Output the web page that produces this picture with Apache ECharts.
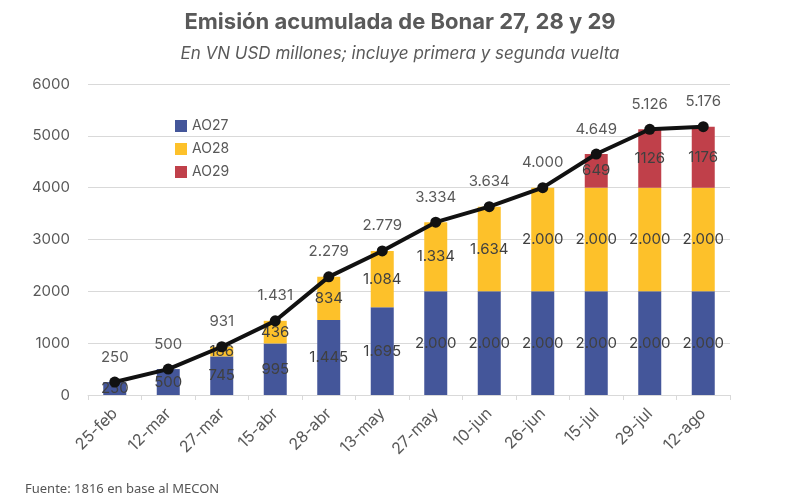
<!DOCTYPE html>
<html>
<head>
<meta charset="utf-8">
<script src="https://cdn.jsdelivr.net/npm/echarts@6/dist/echarts.min.js"></script>
<style>
  html, body { margin: 0; padding: 0; background: #fff; }
  #chart { width: 800px; height: 504px; }
</style>
</head>
<body>
<div id="chart"></div>
<script>
var fechas = ['25-feb', '12-mar', '27-mar', '15-abr', '28-abr', '13-may', '27-may', '10-jun', '26-jun', '15-jul', '29-jul', '12-ago'];
var ao27 = [250, 500, 745, 995, 1445, 1695, 2000, 2000, 2000, 2000, 2000, 2000];
var ao28 = [0, 0, 186, 436, 834, 1084, 1334, 1634, 2000, 2000, 2000, 2000];
var ao29 = [0, 0, 0, 0, 0, 0, 0, 0, 0, 649, 1126, 1176];
var total = [250, 500, 931, 1431, 2279, 2779, 3334, 3634, 4000, 4649, 5126, 5176];

var fontFam = 'Inter, "Noto Sans", sans-serif';

// separador de miles con punto
function miles(v) {
  return String(v).replace(/\B(?=(\d{3})+(?!\d))/g, '.');
}

function etiquetaBarra(sep) {
  return {
    show: true,
    position: 'inside',
    color: '#404040',
    fontSize: 15,
    fontFamily: fontFam,
    formatter: function (p) {
      if (!p.value) return '';
      return sep ? miles(p.value) : String(p.value);
    }
  };
}

var chart = echarts.init(document.getElementById('chart'));

var option = {
  backgroundColor: '#fff',
  animation: false,
  title: [{
    text: 'Emisión acumulada de Bonar 27, 28 y 29',
    left: 'center',
    top: 6,
    textStyle: { fontFamily: fontFam, fontSize: 22, fontWeight: 'bold', color: '#595959' }
  }, {
    text: 'En VN USD millones; incluye primera y segunda vuelta',
    left: 'center',
    top: 40,
    textStyle: { fontFamily: fontFam, fontSize: 17, fontStyle: 'italic', fontWeight: 'normal', color: '#595959' }
  }, {
    text: 'Fuente: 1816 en base al MECON',
    left: 20,
    top: 478,
    textStyle: { fontFamily: '"Liberation Sans Narrow", "Noto Sans", sans-serif', fontSize: 13, fontWeight: 'normal', color: '#555' }
  }],
  legend: {
    data: ['AO27', 'AO28', 'AO29'],
    orient: 'vertical',
    left: 170,
    top: 114,
    itemWidth: 12,
    itemHeight: 12,
    itemGap: 9,
    icon: 'rect',
    textStyle: { fontFamily: fontFam, fontSize: 14, color: '#595959' }
  },
  grid: { left: 88, right: 70, top: 84, bottom: 109 },
  xAxis: {
    type: 'category',
    data: fechas,
    axisLine: { lineStyle: { color: '#d9d9d9' } },
    axisTick: { show: true, lineStyle: { color: '#d9d9d9' } },
    axisLabel: { rotate: 45, color: '#595959', fontSize: 16, fontFamily: fontFam, margin: 16 }
  },
  yAxis: {
    type: 'value',
    min: 0,
    max: 6000,
    interval: 1000,
    axisLine: { show: false },
    axisTick: { show: false },
    splitLine: { lineStyle: { color: '#d9d9d9' } },
    axisLabel: { color: '#595959', fontSize: 15, fontFamily: fontFam, margin: 18, formatter: function (v) { return String(v); } }
  },
  series: [{
    name: 'AO27',
    type: 'bar',
    stack: 'total',
    barWidth: 23,
    data: ao27,
    itemStyle: { color: '#44569a' },
    label: etiquetaBarra(true)
  }, {
    name: 'AO28',
    type: 'bar',
    stack: 'total',
    data: ao28,
    itemStyle: { color: '#fdc12a' },
    label: etiquetaBarra(true)
  }, {
    name: 'AO29',
    type: 'bar',
    stack: 'total',
    data: ao29,
    itemStyle: { color: '#c0404a' },
    label: etiquetaBarra(false)
  }, {
    name: 'Total',
    type: 'line',
    data: total,
    symbol: 'circle',
    symbolSize: 11,
    lineStyle: { color: '#111', width: 4 },
    itemStyle: { color: '#111' },
    z: 5,
    label: {
      show: true,
      position: 'top',
      distance: 12,
      color: '#595959',
      fontSize: 15,
      fontFamily: fontFam,
      formatter: function (p) { return miles(p.value); }
    }
  }]
};

chart.setOption(option);
</script>
</body>
</html>
